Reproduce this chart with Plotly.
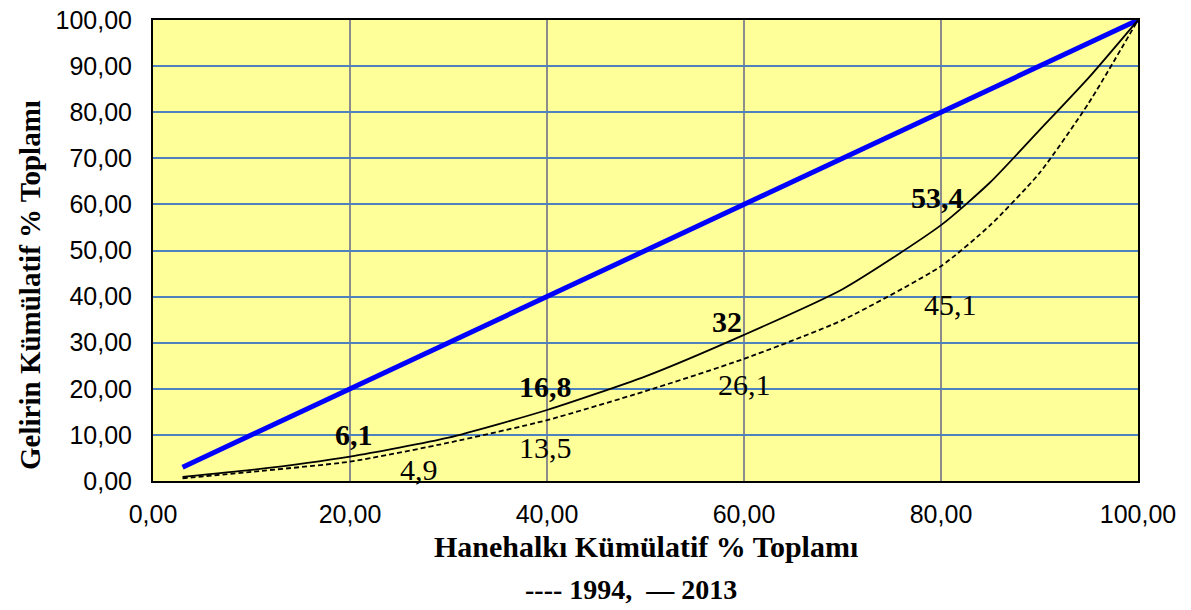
import plotly.graph_objects as go

# Data
hh_cum = [3, 10, 20, 30, 40, 50, 60, 70, 80, 85, 90, 95, 100]
inc_2013 = [0.9, 2.4, 5.3, 9.4, 15.4, 22.7, 31.7, 41.6, 55.5, 64.8, 76.1, 87.5, 100]
inc_1994 = [0.6, 2.0, 4.2, 8.3, 13.2, 19.5, 26.5, 34.9, 46.6, 55.5, 66.8, 82.0, 100]
equality_x = [3, 100]
equality_y = [3, 100]

quintile_x = [20, 40, 60, 80]
labels_2013 = ["6,1", "16,8", "32", "53,4"]
labels_1994 = ["4,9", "13,5", "26,1", "45,1"]

fig = go.Figure()
fig.add_trace(go.Scatter(x=equality_x, y=equality_y, mode="lines",
                         line=dict(color="#0000FF", width=5), showlegend=False))
fig.add_trace(go.Scatter(x=hh_cum, y=inc_1994, mode="lines",
                         line=dict(color="black", width=1.8, dash="5px,3px", shape="spline", smoothing=0.6),
                         showlegend=False))
fig.add_trace(go.Scatter(x=hh_cum, y=inc_2013, mode="lines",
                         line=dict(color="black", width=1.8, shape="spline", smoothing=0.6),
                         showlegend=False))

serif = "Liberation Serif, Times New Roman, serif"
sans = "Liberation Sans, Arial, sans-serif"
pos_2013 = [(20.4, 10.0), (39.8, 20.4), (58.3, 34.7), (79.6, 61.6)]
pos_1994 = [(27.0, 2.4), (39.8, 7.2), (60.0, 20.9), (81.0, 38.2)]
ann = []
for t, (x, y) in zip(labels_2013, pos_2013):
    ann.append(dict(x=x, y=y, text="<b>" + t + "</b>", showarrow=False,
                    font=dict(family=serif, size=30, color="black"), xref="x", yref="y"))
for t, (x, y) in zip(labels_1994, pos_1994):
    ann.append(dict(x=x, y=y, text=t, showarrow=False,
                    font=dict(family=serif, size=30, color="black"), xref="x", yref="y"))
ann.append(dict(x=0.5, y=-0.141, xref="paper", yref="paper", showarrow=False,
                xanchor="center", yanchor="middle",
                text="<b>Hanehalkı Kümülatif % Toplamı</b>",
                font=dict(family=serif, size=30, color="black")))
ann.append(dict(x=0.485, y=-0.236, xref="paper", yref="paper", showarrow=False,
                xanchor="center", yanchor="middle",
                text="<b>---- 1994,  \u2014 2013</b>",
                font=dict(family=serif, size=28, color="black")))
ann.append(dict(x=-0.125, y=0.425, xref="paper", yref="paper", showarrow=False, textangle=-90,
                xanchor="center", yanchor="middle",
                text="<b>Gelirin Kümülatif % Toplamı</b>",
                font=dict(family=serif, size=29, color="black")))

axis_common = dict(range=[0, 100], tickformat=".2f", showgrid=True, gridwidth=2,
                   zeroline=False, showline=True, linecolor="black", linewidth=2,
                   mirror=True, ticks="", automargin=False,
                   tickfont=dict(family=sans, size=25, color="black"))

fig.update_layout(
    width=1191, height=610,
    margin=dict(l=153, r=53, t=20, b=129),
    paper_bgcolor="white", plot_bgcolor="#FFFF99",
    separators=",.",
    annotations=ann,
    xaxis=dict(axis_common, tickvals=[0, 20, 40, 60, 80, 100], gridcolor="#8C8C8C",
               ticklabelstandoff=10),
    yaxis=dict(axis_common, tickvals=list(range(0, 101, 10)), gridcolor="#4F81BD",
               ticklabelstandoff=14),
)

fig.write_html("out.html", config={"displayModeBar": False},
               post_script="document.body.style.margin='0';document.body.style.overflow='hidden';")
